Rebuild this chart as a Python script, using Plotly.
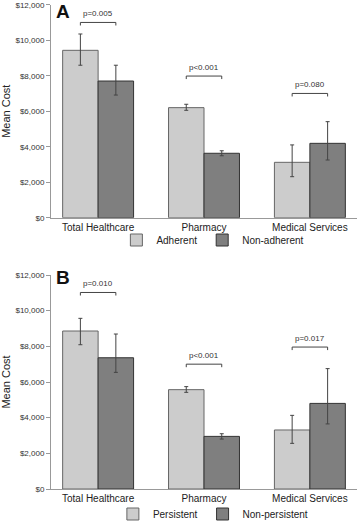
import plotly.graph_objects as go

categories = ["Total Healthcare", "Pharmacy", "Medical Services"]

# Panel A
a_names = ["Adherent", "Non-adherent"]
a_adh = [9430, 6200, 3120]
a_adh_hi = [10350, 6390, 4100]
a_adh_lo = [8590, 6050, 2310]
a_non = [7700, 3630, 4190]
a_non_hi = [8590, 3770, 5410]
a_non_lo = [6910, 3490, 3250]
a_pvals = ["p=0.005", "p<0.001", "p=0.080"]
a_bracket = [11000, 7980, 7000]

# Panel B
b_names = ["Persistent", "Non-persistent"]
b_per = [8860, 5570, 3310]
b_per_hi = [9570, 5740, 4130]
b_per_lo = [8090, 5420, 2560]
b_non = [7360, 2950, 4800]
b_non_hi = [8690, 3100, 6750]
b_non_lo = [6540, 2800, 3650]
b_pvals = ["p=0.010", "p<0.001", "p=0.017"]
b_bracket = [11020, 7000, 7960]

y_ticks = [0, 2000, 4000, 6000, 8000, 10000, 12000]
y_ticktext = ["$0", "$2,000", "$4,000", "$6,000", "$8,000", "$10,000", "$12,000"]

FONT = "Arial, Liberation Sans, sans-serif"
LIGHT = "#cccccc"
DARK = "#7f7f7f"
W, H = 359, 521

fig = go.Figure()


def add_bars(vals, hi, lo, color, line, name, xa, ya, legend):
    fig.add_trace(go.Bar(
        x=categories, y=vals, name=name, xaxis=xa, yaxis=ya, legend=legend,
        marker=dict(color=color, line=dict(color=line, width=1)),
        error_y=dict(type="data", symmetric=False,
                     array=[h - v for h, v in zip(hi, vals)],
                     arrayminus=[v - l for v, l in zip(vals, lo)],
                     color="#444444", thickness=1, width=2),
    ))


add_bars(a_adh, a_adh_hi, a_adh_lo, LIGHT, "#666666", a_names[0], "x", "y", "legend")
add_bars(a_non, a_non_hi, a_non_lo, DARK, "#333333", a_names[1], "x", "y", "legend")
add_bars(b_per, b_per_hi, b_per_lo, LIGHT, "#666666", b_names[0], "x2", "y2", "legend2")
add_bars(b_non, b_non_hi, b_non_lo, DARK, "#333333", b_names[1], "x2", "y2", "legend2")

bargap = 0.33
half = (1 - bargap) / 4  # offset of each bar center from category center
depth = 170

for pv, by, xr, yr in [(a_pvals, a_bracket, "x", "y"), (b_pvals, b_bracket, "x2", "y2")]:
    for i, (p, yv) in enumerate(zip(pv, by)):
        x0, x1 = i - half, i + half
        fig.add_shape(type="path",
                      path=f"M {x0},{yv - depth} L {x0},{yv} L {x1},{yv} L {x1},{yv - depth}",
                      xref=xr, yref=yr, line=dict(color="#444444", width=1))
        fig.add_annotation(x=i, y=yv, xref=xr, yref=yr, text=p, showarrow=False,
                           yanchor="bottom", yshift=2,
                           font=dict(size=8, color="#333333", family=FONT))

xdom = [51 / W, 357 / W]
ya_dom = [1 - 217.7 / H, 1 - 4.7 / H]
yb_dom = [1 - 489 / H, 1 - 275 / H]

xax = dict(domain=xdom, range=[-0.445, 2.445], showline=True, linecolor="#999999",
           linewidth=1, ticks="", tickfont=dict(size=10, color="#222222", family=FONT),
           showgrid=False, zeroline=False, automargin=False)
yax = dict(range=[0, 12000], tickvals=y_ticks, ticktext=y_ticktext,
           showline=True, linecolor="#999999",
           linewidth=1, ticks="outside", ticklen=4, tickcolor="#999999",
           tickfont=dict(size=8, color="#333333", family=FONT), showgrid=False,
           zeroline=False, automargin=False,
           title=dict(text="Mean Cost", font=dict(size=11, color="#222222", family=FONT),
                      standoff=4))

fig.update_layout(
    width=W, height=H,
    margin=dict(l=0, r=0, t=0, b=0, autoexpand=False),
    plot_bgcolor="white", paper_bgcolor="white",
    barmode="group", bargap=bargap, bargroupgap=0,
    font=dict(family=FONT),
    xaxis=dict(**xax, anchor="y"),
    yaxis=dict(**yax, domain=ya_dom, anchor="x"),
    xaxis2=dict(**xax, anchor="y2"),
    yaxis2=dict(**yax, domain=yb_dom, anchor="x2"),
    legend=dict(orientation="h", x=0.593, y=1 - 240 / H, xanchor="center", yanchor="middle",
                font=dict(size=10, color="#222222", family=FONT), itemwidth=30,
                bgcolor="rgba(0,0,0,0)"),
    legend2=dict(orientation="h", x=0.593, y=1 - 514 / H, xanchor="center", yanchor="middle",
                 font=dict(size=10, color="#222222", family=FONT), itemwidth=30,
                 bgcolor="rgba(0,0,0,0)"),
    showlegend=True,
)

for letter, yc in [("A", 12), ("B", 277)]:
    fig.add_annotation(x=54 / W, y=1 - yc / H, xref="paper", yref="paper", text=f"<b>{letter}</b>",
                       showarrow=False, xanchor="left", yanchor="middle",
                       font=dict(size=19, color="#111111", family=FONT))

fig.write_html("out.html", config={"displayModeBar": False},
               post_script="document.body.style.margin='0';")
